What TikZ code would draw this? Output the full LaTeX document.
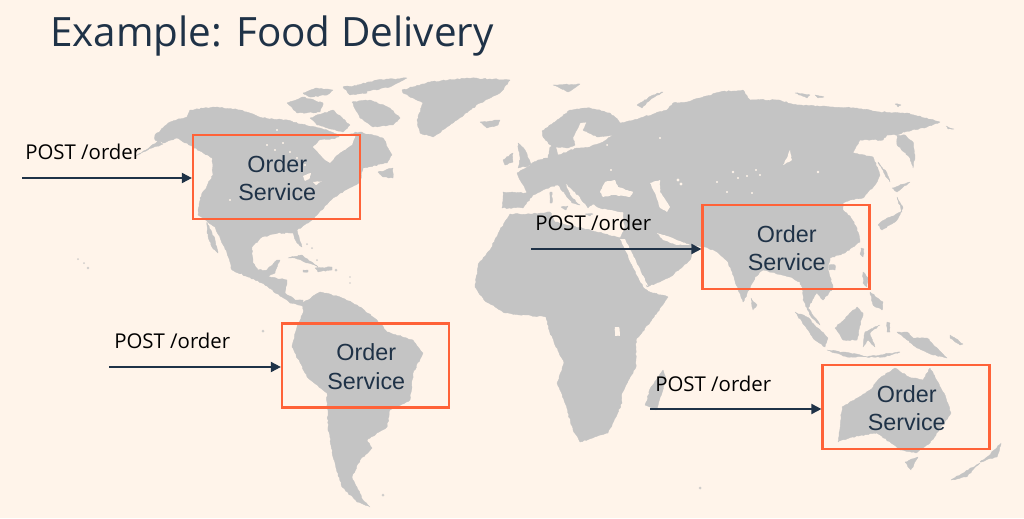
\documentclass[tikz,border=0pt]{standalone}
\usepackage{fontspec}
\setmainfont{Open Sans}
\newfontfamily\boxfont{Liberation Sans}
\usetikzlibrary{arrows.meta,decorations.pathmorphing}
\definecolor{pagebg}{HTML}{FFF4EA}
\definecolor{landc}{HTML}{C4C4C4}
\definecolor{inkc}{HTML}{1F3247}
\definecolor{boxc}{HTML}{FF6238}
\newcommand{\svctext}{\hspace*{1.2pt}\rule{0pt}{14.5pt}Order\\\hspace*{1.2pt}Service}
\tikzset{
  land/.style={fill=landc,draw=landc,line width=0.25pt,line join=round,decorate,decoration={random steps,segment length=1.7pt,amplitude=0.45pt}},
  lake/.style={fill=pagebg,decorate,decoration={random steps,segment length=1.5pt,amplitude=0.3pt}},
  speck/.style={fill=landc,opacity=0.8},
  svcbox/.style={draw=boxc,line width=1.9pt,minimum width=125pt,minimum height=63pt,inner sep=0pt,align=center,text=inkc,font=\boxfont\fontsize{17.5}{21.6}\selectfont},
  reqlabel/.style={anchor=base west,inner sep=0pt,text=black,font=\fontsize{15.3}{18}\selectfont},
  reqarrow/.style={draw=inkc,line width=1.4pt,-{Triangle[length=7.5pt,width=7.5pt]}},
  titletext/.style={anchor=base west,inner sep=0pt,text=inkc,font=\fontsize{30.3}{36}\selectfont}
}
\begin{document}
\begin{tikzpicture}[x=0.75pt,y=-0.75pt]
\useasboundingbox (0,0) rectangle (1024,518);
\fill[pagebg] (0,0) rectangle (1024,518);
% North and Central America
\fill[land] (155,135)--(170,122)--(187,117)--(190,110)--(213,107)--(240,110)--(263,118)--(287,120)--(300,124)--(320,128)--(340,135)--(360,132)--(383,138)--(392,155)--(387,163)--(363,168)--(360,182)--(333,198)--(317,215)--(312,220)--(297,230)--(302,247)--(297,243)--(293,233)--(278,233)--(262,237)--(252,247)--(253,263)--(258,270)--(267,270)--(277,260)--(280,260)--(275,273)--(267,277)--(287,280)--(285,293)--(295,300)--(303,300)--(305,307)--(298,305)--(290,303)--(282,297)--(262,283)--(248,277)--(232,270)--(227,253)--(215,227)--(198,215)--(200,198)--(213,175)--(212,158)--(193,147)--(177,138)--(163,143)--(155,140)--cycle;
\fill[land] (158,141)--(163,144)--(152,148)--(140,154)--(136,156)--(146,150)--cycle;
\fill[land] (207,222)--(215,240)--(218,253)--(212,247)--(207,233)--cycle;
\fill[lake] (313,147)--(320,140)--(335,139)--(345,133)--(356,134)--(352,145)--(337,155)--(330,163)--(323,158)--cycle;
\fill[lake] (303,176)--(311,173)--(310,178)--(305,181)--cycle;
\fill[lake] (313,182)--(322,181)--(316,185)--cycle;
\fill[pagebg] (267,145) circle (1.1);
\fill[pagebg] (275,150) circle (1.1);
\fill[pagebg] (283,143) circle (1.1);
\fill[pagebg] (290,152) circle (1.1);
\fill[pagebg] (297,158) circle (1.1);
\fill[pagebg] (305,165) circle (1.1);
\fill[pagebg] (277,130) circle (1.1);
\fill[pagebg] (230,200) circle (1.1);
% Arctic islands
\fill[land] (352,102)--(370,100)--(390,108)--(400,118)--(393,125)--(373,127)--(360,118)--cycle;
\fill[land] (287,103)--(303,97)--(323,103)--(320,112)--(297,113)--cycle;
\fill[land] (310,118)--(333,110)--(350,125)--(343,132)--(317,125)--cycle;
\fill[land] (303,93)--(317,88)--(333,90)--(327,95)--(310,97)--cycle;
\fill[land] (343,87)--(363,85)--(367,93)--(350,95)--cycle;
\fill[land] (357,85)--(377,80)--(407,78)--(390,87)--(363,92)--cycle;
\fill[land] (378,172)--(393,168)--(393,178)--(383,177)--cycle;
% Greenland and Iceland
\fill[land] (402,90)--(430,82)--(467,78)--(510,80)--(500,93)--(480,103)--(457,120)--(433,137)--(420,133)--(417,120)--(423,103)--(403,93)--cycle;
\fill[land] (480,122)--(490,121)--(500,120)--(498,125)--(487,128)--cycle;
% Caribbean and Pacific specks
\fill[land] (288,258)--(302,255)--(318,267)--(308,263)--(295,258)--cycle;
\fill[land] (315,268)--(332,267)--(332,270)--(318,272)--cycle;
\fill[land] (303,270)--(308,270)--(308,272)--(303,272)--cycle;
\fill[speck] (336,270) circle (1.5);
\fill[speck] (307,244) circle (1);
\fill[speck] (312,248) circle (1);
\fill[speck] (317,260) circle (1);
\fill[speck] (350,277) circle (0.8);
\fill[speck] (350,283) circle (0.8);
\fill[speck] (78,259) circle (1);
\fill[speck] (84,263) circle (1);
\fill[speck] (88,268) circle (1.3);
\fill[speck] (263,331) circle (1.5);
% South America
\fill[land] (303,303)--(320,292)--(340,297)--(357,305)--(377,320)--(387,332)--(413,340)--(423,353)--(413,373)--(410,400)--(390,410)--(387,427)--(367,440)--(372,448)--(360,460)--(352,477)--(363,500)--(370,507)--(357,502)--(342,487)--(333,457)--(328,427)--(327,393)--(307,377)--(292,347)--(297,327)--(303,313)--cycle;
\fill[speck] (383,495) circle (1.5);
% Eurasia
\fill[land] (502,208)--(503,192)--(527,193)--(517,173)--(538,160)--(548,158)--(550,147)--(555,145)--(558,155)--(577,148)--(590,147)--(603,142)--(613,135)--(597,137)--(583,130)--(587,122)--(580,123)--(573,137)--(575,145)--(568,148)--(562,147)--(552,147)--(543,137)--(542,131)--(557,120)--(570,110)--(590,108)--(610,113)--(618,120)--(620,123)--(640,118)--(667,110)--(673,103)--(687,102)--(700,98)--(720,92)--(743,90)--(750,100)--(777,100)--(797,105)--(833,107)--(857,108)--(880,112)--(907,113)--(940,122)--(927,127)--(903,132)--(897,135)--(897,145)--(910,158)--(913,168)--(915,155)--(913,142)--(905,135)--(887,135)--(883,140)--(860,140)--(853,153)--(873,157)--(880,175)--(875,185)--(863,198)--(850,200)--(843,203)--(843,210)--(850,216)--(857,228)--(860,242)--(845,253)--(830,258)--(828,268)--(833,288)--(823,300)--(815,290)--(817,292)--(808,308)--(820,325)--(812,318)--(803,300)--(803,292)--(800,282)--(790,277)--(763,270)--(755,277)--(753,282)--(743,302)--(728,262)--(717,252)--(705,247)--(690,245)--(693,252)--(690,260)--(670,277)--(647,287)--(620,240)--(625,227)--(623,212)--(600,208)--(593,204)--(588,208)--(580,197)--(565,183)--(570,195)--(580,205)--(572,203)--(558,185)--(550,187)--(533,195)--(523,208)--cycle;
% Africa
\fill[land] (475,287)--(478,265)--(490,250)--(500,230)--(510,214)--(530,214)--(550,212)--(555,222)--(590,230)--(605,234)--(622,238)--(630,262)--(643,287)--(650,292)--(668,297)--(654,317)--(636,340)--(636,367)--(622,393)--(622,403)--(608,433)--(580,442)--(573,430)--(565,403)--(557,383)--(564,363)--(550,333)--(546,317)--(505,313)--(484,300)--cycle;
% Inland seas and lakes
\fill[lake] (600,192)--(605,182)--(615,180)--(618,187)--(633,192)--(630,197)--(613,195)--(603,197)--cycle;
\fill[lake] (650,183)--(660,180)--(660,192)--(670,207)--(667,212)--(660,208)--(655,193)--cycle;
\fill[lake] (657,233)--(670,237)--(690,245)--(677,245)--(663,240)--cycle;
\fill[lake] (620,239)--(625,239)--(648,286)--(641,283)--cycle;
\fill[lake] (615,327)--(619,327)--(620,336)--(615,336)--cycle;
\fill[lake] (790,150)--(792,160)--(783,165)--(787,158)--cycle;
\fill[pagebg] (678,180) circle (1.6);
\fill[pagebg] (681,184) circle (1.6);
\fill[pagebg] (733,172) circle (1.3);
\fill[pagebg] (738,178) circle (1.2);
\fill[pagebg] (747,176) circle (1.2);
\fill[pagebg] (756,170) circle (1.2);
\fill[pagebg] (760,175) circle (1.2);
\fill[pagebg] (727,192) circle (1.2);
\fill[pagebg] (717,182) circle (1.2);
\fill[pagebg] (752,193) circle (1.2);
\fill[pagebg] (818,172) circle (1.3);
\fill[pagebg] (611,170) circle (1.2);
\fill[pagebg] (660,138) circle (1.1);
\fill[pagebg] (607,145) circle (1);
% Mediterranean islands
\fill[land] (550,192)--(552,192)--(552,203)--(550,203)--cycle;
\fill[land] (561,207)--(568,206)--(566,210)--cycle;
\fill[land] (585,214)--(593,214)--(590,216)--cycle;
% British Isles, Svalbard, Novaya Zemlya, Madagascar, Siberian islands
\fill[land] (518,143)--(525,150)--(532,165)--(518,168)--(520,160)--cycle;
\fill[land] (503,160)--(513,153)--(513,162)--(505,165)--cycle;
\fill[land] (553,85)--(580,84)--(568,92)--cycle;
\fill[land] (637,105)--(653,95)--(663,92)--(650,100)--(642,108)--cycle;
\fill[land] (663,370)--(666,380)--(656,410)--(645,405)--(651,387)--cycle;
\fill[land] (795,93)--(810,95)--(807,98)--cycle;
\fill[land] (815,95)--(824,97)--(818,98)--cycle;
\fill[land] (895,104)--(901,105)--(898,107)--cycle;
\fill[land] (946,126)--(954,129)--(948,129)--cycle;
% Sakhalin and Japan
\fill[land] (878,162)--(887,173)--(890,182)--(884,173)--cycle;
\fill[land] (892,188)--(910,182)--(897,192)--cycle;
\fill[land] (897,197)--(902,212)--(887,218)--(878,225)--(882,230)--(897,220)--(903,208)--cycle;
% Taiwan, Hainan, Sri Lanka, Philippines
\fill[land] (861,248)--(864,249)--(863,257)--(860,254)--cycle;
\fill[land] (829,265)--(835,265)--(835,270)--(829,270)--cycle;
\fill[land] (751,298)--(757,305)--(753,310)--cycle;
\fill[land] (863,272)--(868,278)--(867,287)--(863,283)--cycle;
\fill[land] (870,292)--(883,302)--(882,310)--(873,305)--cycle;
% Indonesia and New Guinea
\fill[land] (795,312)--(807,317)--(828,338)--(825,347)--(813,338)--cycle;
\fill[land] (835,328)--(857,307)--(863,313)--(857,340)--(843,340)--cycle;
\fill[land] (827,350)--(850,353)--(867,357)--(847,357)--cycle;
\fill[land] (867,357)--(885,354)--(900,352)--(885,357)--cycle;
\fill[land] (865,332)--(880,325)--(870,333)--(875,347)--(868,340)--(863,347)--cycle;
\fill[land] (887,322)--(890,323)--(890,332)--(887,332)--cycle;
\fill[land] (897,332)--(907,332)--(913,338)--(927,338)--(947,358)--(933,355)--(917,348)--(907,340)--cycle;
\fill[land] (950,335)--(963,344)--(960,345)--(950,338)--cycle;
% Australia and New Zealand
\fill[land] (838,442)--(842,407)--(870,390)--(881,377)--(895,368)--(909,377)--(923,380)--(930,368)--(944,393)--(951,413)--(930,443)--(916,453)--(900,450)--(891,443)--(877,433)--(852,437)--cycle;
\fill[land] (905,462)--(918,457)--(911,470)--cycle;
\fill[land] (987,457)--(1001,443)--(997,457)--(980,462)--cycle;
\fill[land] (951,480)--(980,463)--(966,477)--cycle;
\fill[speck] (700,488) circle (1.5);
% Title
\node[titletext] (title) at (50,46) {Example: Food Delivery};
% Services
\node[svcbox] (svcA) at (276.5,177) {\svctext};
\node[svcbox] (svcB) at (786,247) {\svctext};
\node[svcbox] (svcC) at (365.5,365.5) {\svctext};
\node[svcbox] (svcD) at (906,407) {\svctext};
% Request labels
\node[reqlabel] (reqA) at (25,159) {POST /order};
\node[reqlabel] (reqB) at (535,230) {POST /order};
\node[reqlabel] (reqC) at (114,348) {POST /order};
\node[reqlabel] (reqD) at (655,391) {POST /order};
% Arrows
\coordinate (fromA) at (22,178);
\coordinate (fromB) at (531,249);
\coordinate (fromC) at (109,367);
\coordinate (fromD) at (650,409);
\draw[reqarrow] (fromA) -- (fromA -| svcA.west);
\draw[reqarrow] (fromB) -- (fromB -| svcB.west);
\draw[reqarrow] (fromC) -- (fromC -| svcC.west);
\draw[reqarrow] (fromD) -- (fromD -| svcD.west);
\end{tikzpicture}
\end{document}
